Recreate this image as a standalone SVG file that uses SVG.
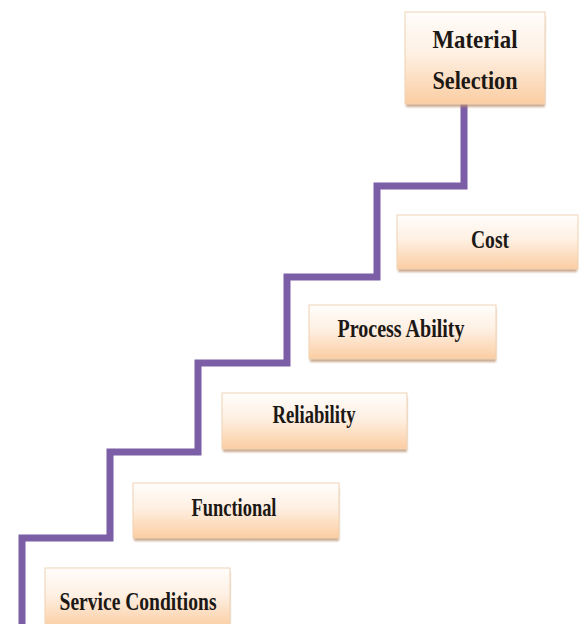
<svg xmlns="http://www.w3.org/2000/svg" width="582" height="624" viewBox="0 0 582 624">
  <defs>
    <linearGradient id="peach" x1="0" y1="0" x2="0" y2="1">
      <stop offset="0" stop-color="#fffdfb"/>
      <stop offset="0.45" stop-color="#fef0e3"/>
      <stop offset="1" stop-color="#fbcda2"/>
    </linearGradient>
    <filter id="soft" x="-10%" y="-10%" width="120%" height="130%">
      <feGaussianBlur stdDeviation="1.2"/>
    </filter>
  </defs>
  <style>
    .box { fill: url(#peach); stroke: #efd3b5; stroke-width: 1; }
    .shadow { fill: #b98f6c; opacity: 0.75; filter: url(#soft); }
    .lbl { font-family: "Liberation Serif", "DejaVu Serif", serif; font-weight: bold; font-size: 26px; fill: #1c1816; text-anchor: middle; }
    .stair { fill: none; stroke: #7b5ea6; stroke-width: 7; stroke-linejoin: miter; }
  </style>
  <rect x="0" y="0" width="582" height="624" fill="#ffffff"/>

  <g id="connectors">
    <path class="stair" d="M22,624 V538 H110 V452 H198 V363 H287 V277 H377 V186 H464 V103"/>
  </g>

  <g id="material-selection">
    <rect class="shadow" x="406" y="16" width="139" height="91"/>
    <rect class="box" x="405" y="12" width="140" height="92"/>
    <text class="lbl" x="475" y="48" textLength="85" lengthAdjust="spacingAndGlyphs">Material</text>
    <text class="lbl" x="475" y="89" textLength="85" lengthAdjust="spacingAndGlyphs">Selection</text>
  </g>

  <g id="cost">
    <rect class="shadow" x="398" y="219" width="179" height="53"/>
    <rect class="box" x="397" y="215" width="181" height="54"/>
    <text class="lbl" x="490" y="248" textLength="38" lengthAdjust="spacingAndGlyphs">Cost</text>
  </g>

  <g id="process-ability">
    <rect class="shadow" x="310" y="309" width="186" height="53"/>
    <rect class="box" x="309" y="305" width="187" height="54"/>
    <text class="lbl" x="401" y="337" textLength="127" lengthAdjust="spacingAndGlyphs">Process Ability</text>
  </g>

  <g id="reliability">
    <rect class="shadow" x="223" y="397" width="184" height="55"/>
    <rect class="box" x="222" y="393" width="185" height="56"/>
    <text class="lbl" x="314" y="423" textLength="83" lengthAdjust="spacingAndGlyphs">Reliability</text>
  </g>

  <g id="functional">
    <rect class="shadow" x="134" y="487" width="205" height="54"/>
    <rect class="box" x="133" y="483" width="206" height="55"/>
    <text class="lbl" x="234" y="516" textLength="85" lengthAdjust="spacingAndGlyphs">Functional</text>
  </g>

  <g id="service-conditions">
    <rect class="shadow" x="46" y="572" width="184" height="60"/>
    <rect class="box" x="45" y="568" width="185" height="60"/>
    <text class="lbl" x="138" y="610" textLength="157" lengthAdjust="spacingAndGlyphs">Service Conditions</text>
  </g>
</svg>
